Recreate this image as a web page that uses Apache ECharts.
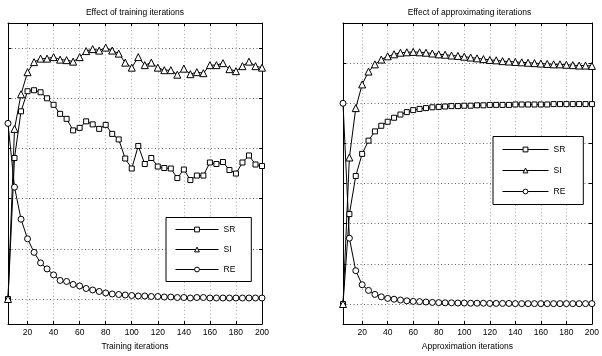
<!DOCTYPE html>
<html>
<head>
<meta charset="utf-8">
<title>Effect of iterations</title>
<script src="https://cdn.jsdelivr.net/npm/echarts@6/dist/echarts.min.js"></script>
<style>
  html, body { margin: 0; padding: 0; background: #fff; }
  #chart { width: 602px; height: 356px; }
</style>
</head>
<body>
<div id="chart"></div>
<script>
// iterations on the x axis (both panels)
const iterations = [5, 10, 15, 20, 25, 30, 35, 40, 45, 50, 55, 60, 65, 70, 75, 80, 85, 90, 95, 100,
  105, 110, 115, 120, 125, 130, 135, 140, 145, 150, 155, 160, 165, 170, 175, 180, 185, 190, 195, 200]

// left panel: training iterations
const trainSR = [0, 2.81, 3.74, 4.14, 4.16, 4.12, 4.00, 3.87, 3.69, 3.59, 3.36, 3.41, 3.54, 3.48, 3.39, 3.47, 3.29, 3.18, 2.80, 2.60,
  3.05, 2.69, 2.81, 2.64, 2.61, 2.60, 2.41, 2.58, 2.37, 2.46, 2.46, 2.72, 2.69, 2.73, 2.57, 2.50, 2.72, 2.86, 2.68, 2.65]
const trainSI = [0, 3.39, 4.08, 4.52, 4.72, 4.79, 4.79, 4.82, 4.77, 4.76, 4.73, 4.82, 4.94, 4.98, 4.95, 5.01, 4.95, 4.89, 4.71, 4.61,
  4.82, 4.66, 4.71, 4.61, 4.56, 4.56, 4.47, 4.59, 4.48, 4.52, 4.50, 4.66, 4.66, 4.70, 4.58, 4.54, 4.64, 4.73, 4.64, 4.61]
const trainRE = [3.50, 2.23, 1.59, 1.20, 0.93, 0.72, 0.60, 0.48, 0.37, 0.35, 0.29, 0.26, 0.21, 0.18, 0.15, 0.12, 0.10, 0.09, 0.08, 0.07,
  0.06, 0.06, 0.05, 0.05, 0.04, 0.04, 0.03, 0.03, 0.02, 0.03, 0.03, 0.02, 0.02, 0.02, 0.02, 0.02, 0.02, 0.02, 0.02, 0.02]

// right panel: approximating iterations
const approxSR = [0, 2.24, 3.19, 3.74, 4.07, 4.30, 4.44, 4.54, 4.64, 4.72, 4.78, 4.83, 4.86, 4.88, 4.90, 4.91, 4.92, 4.93, 4.93, 4.94,
  4.94, 4.95, 4.95, 4.96, 4.96, 4.96, 4.96, 4.97, 4.97, 4.97, 4.97, 4.97, 4.97, 4.98, 4.98, 4.98, 4.98, 4.98, 4.98, 4.98]
const approxSI = [0, 3.65, 4.88, 5.47, 5.79, 5.97, 6.09, 6.17, 6.22, 6.26, 6.27, 6.28, 6.27, 6.26, 6.24, 6.22, 6.21, 6.19, 6.18, 6.16,
  6.14, 6.12, 6.10, 6.08, 6.07, 6.05, 6.04, 6.03, 6.02, 6.01, 6.00, 5.99, 5.98, 5.97, 5.97, 5.96, 5.95, 5.94, 5.94, 5.93]
const approxRE = [5.00, 1.64, 0.83, 0.48, 0.34, 0.24, 0.18, 0.14, 0.12, 0.10, 0.08, 0.065, 0.06, 0.05, 0.04, 0.035, 0.03, 0.03, 0.025, 0.025,
  0.02, 0.02, 0.02, 0.015, 0.015, 0.015, 0.015, 0.01, 0.01, 0.01, 0.01, 0.01, 0.01, 0.01, 0.01, 0.01, 0.01, 0.01, 0.01, 0.01]

const titles = ['Effect of training iterations', 'Effect of approximating iterations']
const xNames = ['Training iterations', 'Approximation iterations']
const seriesNames = ['SR', 'SI', 'RE']

const FONT = 'Liberation Sans, Arial, Helvetica, sans-serif'
const symbols = { SR: ['rect', 5], SI: ['triangle', 7], RE: ['circle', 6] }

const chart = echarts.init(document.getElementById('chart'), null, { renderer: 'canvas' })

const pairs = (ys) => iterations.map((x, i) => [x, ys[i]])

const grids = [
  { left: 8, top: 23, width: 254, height: 310 },
  { left: 343, top: 23, width: 253, height: 310 },
]
const yRanges = [[-0.5, 5.5, 6], [-0.5, 7, 7]]

const xAxes = []
const yAxes = []
grids.forEach((g, gi) => {
  // bottom axis with labels
  xAxes.push({
    type: 'value', gridIndex: gi, min: 5, max: 200, splitNumber: 10,
    name: xNames[gi], nameLocation: 'middle', nameGap: 13,
    nameTextStyle: { fontFamily: FONT, fontSize: 8.5, color: '#000' },
    axisLine: { onZero: false, lineStyle: { color: '#000', width: 1 } },
    axisTick: { inside: true, length: 3, lineStyle: { color: '#000' } },
    axisLabel: { showMinLabel: false, margin: 4, fontFamily: FONT, fontSize: 8.5, color: '#000' },
    splitLine: { show: true, lineStyle: { color: '#aaa', type: [1, 2.5], width: 1 } },
  })
  // top frame edge
  xAxes.push({
    type: 'value', gridIndex: gi, min: 5, max: 200, splitNumber: 10, position: 'top',
    axisLine: { onZero: false, lineStyle: { color: '#000', width: 1 } },
    axisTick: { inside: true, length: 3, lineStyle: { color: '#000' } },
    axisLabel: { show: false },
    splitLine: { show: false },
  })
  const [ymin, ymax, n] = yRanges[gi]
  yAxes.push({
    type: 'value', gridIndex: gi, min: ymin, max: ymax, splitNumber: n,
    axisLine: { show: true, onZero: false, lineStyle: { color: '#000', width: 1 } },
    axisTick: { show: true, inside: true, length: 3, lineStyle: { color: '#000' } },
    axisLabel: { show: false },
    splitLine: { show: true, lineStyle: { color: '#666', type: [1, 2.5], width: 1 } },
  })
  yAxes.push({
    type: 'value', gridIndex: gi, min: ymin, max: ymax, splitNumber: n, position: 'right',
    axisLine: { show: true, onZero: false, lineStyle: { color: '#000', width: 1 } },
    axisTick: { show: true, inside: true, length: 3, lineStyle: { color: '#000' } },
    axisLabel: { show: false },
    splitLine: { show: false },
  })
})

const panelData = [
  { SR: trainSR, SI: trainSI, RE: trainRE },
  { SR: approxSR, SI: approxSI, RE: approxRE },
]

const series = []
panelData.forEach((d, gi) => {
  seriesNames.forEach((name) => {
    series.push({
      name,
      type: 'line',
      xAxisIndex: gi * 2,
      yAxisIndex: gi * 2,
      data: pairs(d[name]),
      symbol: symbols[name][0],
      symbolSize: symbols[name][1],
      showAllSymbol: true,
      lineStyle: { color: '#000', width: 1 },
      itemStyle: { color: '#fff', borderColor: '#000', borderWidth: 1 },
      emphasis: { disabled: true },
      z: 3,
    })
  })
})

const legendBase = {
  data: seriesNames,
  orient: 'vertical',
  selectedMode: false,
  backgroundColor: '#fff',
  borderColor: '#000',
  borderWidth: 1,
  itemHeight: 6,
  lineStyle: { width: 1, color: '#000' },
  itemStyle: { color: '#fff', borderColor: '#000', borderWidth: 1 },
  textStyle: { fontFamily: FONT, fontSize: 8.5, color: '#000', lineHeight: 10 },
  z: 10,
}

const option = {
  animation: false,
  backgroundColor: '#fff',
  title: titles.map((t, gi) => ({
    text: t,
    left: grids[gi].left + grids[gi].width / 2,
    textAlign: 'center',
    top: 8,
    padding: 0,
    textStyle: { fontFamily: FONT, fontSize: 8.5, fontWeight: 'normal', color: '#000' },
  })),
  legend: [
    Object.assign({}, legendBase, { left: 166, top: 217.5, itemWidth: 43, itemGap: 10, padding: [7, 16, 7, 9] }),
    Object.assign({}, legendBase, { left: 493, top: 136.5, itemWidth: 46, itemGap: 11, padding: [8, 18, 8, 9] }),
  ],
  grid: grids,
  xAxis: xAxes,
  yAxis: yAxes,
  series,
}

chart.setOption(option)
</script>
</body>
</html>
